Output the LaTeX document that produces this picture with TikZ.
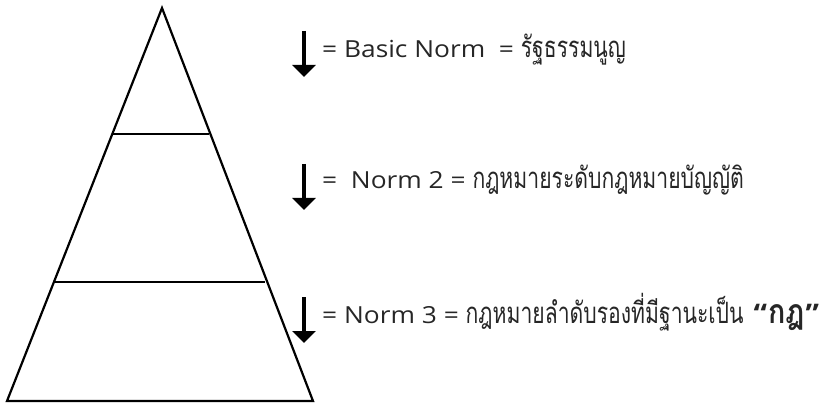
\documentclass[tikz,border=0pt]{standalone}
\usepackage{fontspec}
\setmainfont[FakeStretch=1.12]{Open Sans}
\newfontfamily\thaifont[Script=Thai,Scale=1.25,FakeStretch=0.72]{Loma}
\newfontfamily\thaiboldfont[Script=Thai,Scale=1.25,FakeStretch=0.85]{Loma}
\usetikzlibrary{arrows.meta}
\begin{document}
\begin{tikzpicture}[x=1pt,y=-1pt,
  edge/.style={line width=2.2pt,line join=miter},
  downarrow/.style={line width=3.2pt,-{Triangle[width=23pt,length=12pt]}},
  lbl/.style={anchor=base west,inner sep=0pt,font=\fontsize{23.5}{28}\selectfont,text=black!85}]
\useasboundingbox (0,0) rectangle (838,406);
\coordinate (apex) at (162,8);
\coordinate (bl) at (7,401);
\coordinate (br) at (313,401);
\coordinate (l1l) at (112,134);
\coordinate (l1r) at (209,134);
\coordinate (l2l) at (54,282);
\coordinate (l2r) at (265,282);
\draw[edge] (bl) -- (apex) -- (br) -- cycle;
\draw[edge] (l1l) -- (l1r);
\draw[edge] (l2l) -- (l2r);
\coordinate (a1s) at (304,31);
\coordinate (a1e) at (304,77);
\coordinate (a2s) at (304,164);
\coordinate (a2e) at (304,210);
\coordinate (a3s) at (304,297);
\coordinate (a3e) at (304,343);
\draw[downarrow] (a1s) -- (a1e);
\draw[downarrow] (a2s) -- (a2e);
\draw[downarrow] (a3s) -- (a3e);
\node[lbl] (t1) at (322,58) {= Basic Norm\ \ = {\thaifont รัฐธรรมนูญ}};
\node[lbl] (t2) at (322,189) {=\ \ Norm 2 = {\thaifont กฎหมายระดับกฎหมายบัญญัติ}};
\node[lbl] (t3) at (322,323) {= Norm 3 = {\thaifont กฎหมายลำดับรองที่มีฐานะเป็น}\hspace{10pt}{\bfseries\fontsize{27}{30}\selectfont “\hspace{1pt}{\thaiboldfont\bfseries กฎ}\hspace{1pt}”}};
\end{tikzpicture}
\end{document}
